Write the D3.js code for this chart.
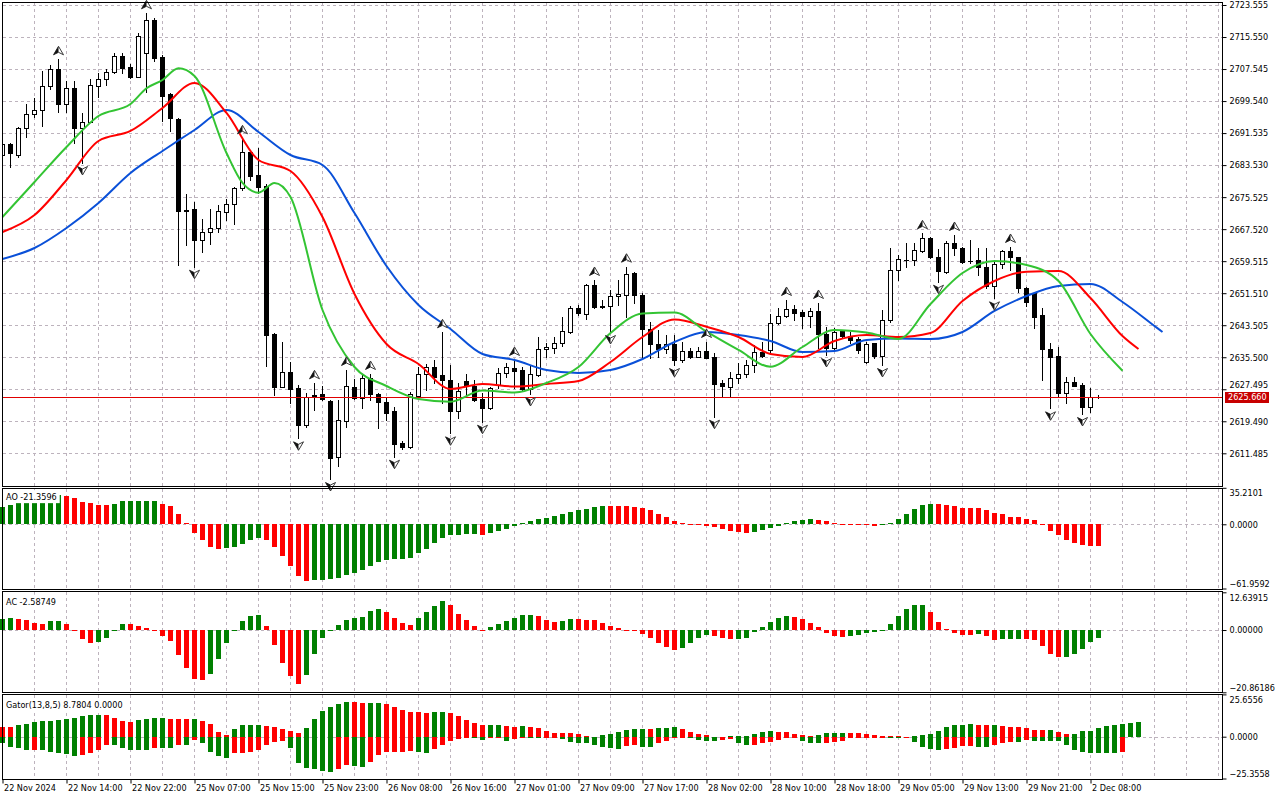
<!DOCTYPE html>
<html>
<head>
<meta charset="utf-8">
<script src="https://cdn.jsdelivr.net/npm/d3@7"></script>
<style>
  html, body { margin: 0; padding: 0; background: #fff; }
  svg { display: block; font-family: "DejaVu Sans Condensed", "Liberation Sans", Arial, sans-serif; }
</style>
</head>
<body>
<div id="chart"></div>
<script>
// candles (XAUUSD H1), bar 0 = 22 Nov 2024 06:00
const opens = [2686.06,2688.81,2686.06,2692.73,2696.23,2697.31,2703.31,2707.56,2698.81,2702.73,
  2692.73,2694.38,2703.38,2704.98,2706.81,2710.81,2708.13,2705.63,2711.63,2719.81,
  2710.63,2701.23,2695.06,2672.31,2672.48,2664.81,2666.81,2667.73,2671.88,2673.73,
  2677.73,2686.73,2681.06,2678.38,2641.31,2628.13,2631.73,2627.73,2618.56,2625.88,
  2626.31,2624.56,2610.48,2619.63,2628.13,2625.23,2630.23,2626.31,2624.31,2622.06,
  2613.98,2613.13,2625.88,2631.23,2633.13,2631.06,2629.81,2622.13,2629.56,2628.38,
  2625.06,2622.73,2628.56,2631.48,2632.73,2632.31,2627.48,2631.06,2637.48,2637.73,
  2638.98,2641.88,2647.73,2646.23,2653.56,2648.31,2648.31,2650.81,2651.06,2656.48,
  2651.06,2642.56,2638.81,2637.48,2638.81,2634.81,2637.06,2635.63,2637.06,2635.63,
  2628.98,2628.13,2630.23,2631.23,2633.56,2636.73,2637.31,2643.98,2645.88,2647.48,
  2646.73,2645.88,2647.06,2641.31,2637.73,2642.06,2640.81,2640.06,2634.38,2638.98,
  2635.88,2644.81,2657.31,2659.81,2659.81,2662.13,2665.23,2660.48,2656.88,2664.13,
  2662.73,2659.56,2659.81,2658.13,2653.31,2658.73,2662.06,2660.48,2652.73,2651.48,
  2646.06,2637.56,2635.81,2626.63,2629.23,2628.56,2622.98,2625.60];
const highs = [2689.06,2689.06,2693.13,2698.81,2700.38,2707.13,2708.56,2709.98,2704.63,2704.56,
  2696.56,2704.98,2706.48,2707.48,2711.48,2711.48,2708.73,2716.48,2721.48,2720.23,
  2711.06,2701.56,2695.31,2676.23,2674.38,2669.98,2672.56,2673.56,2674.98,2678.13,
  2690.23,2687.31,2687.88,2678.81,2641.63,2639.38,2634.23,2628.56,2626.48,2628.98,
  2628.31,2624.81,2624.81,2632.31,2629.98,2631.06,2631.31,2626.56,2625.63,2622.98,
  2614.63,2626.88,2632.98,2633.81,2634.81,2641.73,2633.56,2628.98,2631.31,2629.81,
  2626.48,2628.13,2632.73,2634.13,2634.81,2633.13,2633.31,2640.63,2639.13,2640.63,
  2645.63,2648.31,2648.56,2653.73,2654.81,2649.81,2652.31,2654.81,2658.13,2656.88,
  2651.63,2644.38,2642.31,2641.06,2641.06,2639.38,2637.73,2638.13,2639.31,2636.48,
  2629.81,2631.88,2633.98,2634.81,2638.56,2639.38,2646.31,2647.73,2649.81,2648.56,
  2647.31,2647.73,2649.06,2643.13,2642.73,2642.31,2641.88,2640.63,2639.38,2639.13,
  2647.31,2662.73,2661.06,2664.13,2664.13,2666.48,2665.63,2662.48,2664.63,2666.06,
  2663.13,2664.81,2662.88,2662.73,2659.63,2662.31,2663.06,2660.63,2653.13,2651.88,
  2647.73,2638.98,2638.13,2630.63,2630.63,2628.98,2627.88,2626.06];
const lows = [2685.81,2683.06,2685.56,2690.63,2695.63,2693.31,2702.48,2696.88,2696.81,2688.98,
  2684.06,2694.31,2700.63,2703.56,2706.63,2706.63,2705.23,2705.56,2701.88,2709.56,
  2694.63,2692.13,2658.56,2663.56,2658.13,2661.73,2663.73,2666.88,2669.81,2668.73,
  2677.31,2679.81,2676.63,2633.38,2626.06,2628.13,2623.98,2615.23,2618.13,2622.31,
  2624.93,2605.06,2608.31,2617.98,2625.06,2622.88,2624.81,2617.73,2619.81,2610.63,
  2612.48,2612.73,2625.88,2627.31,2628.98,2623.98,2616.48,2620.23,2625.63,2624.56,
  2619.38,2622.56,2627.73,2630.63,2627.73,2627.31,2626.31,2630.81,2635.63,2636.48,
  2638.31,2641.48,2646.06,2644.98,2647.73,2647.73,2641.81,2648.56,2645.63,2648.98,
  2635.63,2635.23,2635.63,2636.48,2633.56,2634.38,2635.38,2635.48,2635.23,2620.63,
  2625.63,2625.63,2629.13,2630.63,2631.88,2635.56,2636.48,2643.81,2645.63,2644.81,
  2642.73,2643.13,2637.73,2636.06,2637.56,2640.63,2639.13,2636.63,2634.06,2635.23,
  2633.56,2644.31,2654.81,2658.13,2658.56,2661.88,2660.23,2654.38,2656.63,2661.06,
  2659.13,2658.98,2656.06,2652.73,2650.23,2657.73,2657.31,2651.88,2648.31,2642.88,
  2629.81,2622.73,2625.63,2623.98,2628.31,2621.31,2621.73,2625.31];
const closes = [2688.81,2686.48,2692.81,2696.23,2697.31,2703.31,2707.48,2698.73,2702.73,2692.73,
  2694.38,2703.56,2704.98,2706.88,2710.81,2707.88,2705.63,2715.81,2719.81,2710.23,
  2700.81,2695.23,2672.13,2672.18,2664.81,2666.73,2667.73,2672.06,2673.73,2677.73,
  2686.73,2680.88,2678.13,2641.06,2628.13,2631.88,2627.56,2618.56,2625.63,2625.98,
  2625.06,2610.38,2619.81,2628.31,2625.23,2630.23,2626.23,2624.23,2621.48,2613.81,
  2613.13,2626.23,2631.23,2633.13,2630.63,2629.81,2622.13,2627.13,2628.31,2624.81,
  2622.88,2627.88,2631.48,2633.13,2632.13,2627.48,2631.31,2637.56,2637.98,2638.98,
  2642.06,2647.73,2646.48,2653.56,2648.13,2648.18,2650.88,2651.23,2656.23,2651.06,
  2642.48,2638.81,2637.48,2638.81,2634.81,2637.06,2635.63,2637.06,2635.38,2628.73,
  2628.31,2630.23,2631.31,2633.56,2636.73,2635.81,2643.98,2645.88,2647.48,2646.63,
  2645.88,2647.06,2641.23,2637.73,2641.88,2640.81,2639.81,2637.31,2638.81,2635.81,
  2644.81,2657.31,2659.98,2659.88,2662.31,2665.23,2660.48,2657.13,2664.13,2662.73,
  2659.38,2659.48,2658.13,2653.31,2658.73,2662.06,2660.48,2652.73,2649.38,2645.63,
  2637.48,2635.63,2626.63,2629.23,2628.38,2623.13,2625.63,2625.66];
const lastPrice = 2625.66;

// Bill Williams fractals (bar numbers)
const fractalUp = [7, 18, 30, 39, 43, 46, 55, 64, 74, 78, 88, 98, 102, 115, 119, 126];
const fractalDown = [10, 24, 37, 41, 49, 56, 60, 66, 76, 84, 89, 103, 110, 117, 124, 131, 135];

// Alligator lines, read every 4th bar (plus a few extra points)
const jawBars = d3.range(0, 145, 4).concat([145]);
const jawValues = [2660.06,2662.81,2667.81,2674.06,2681.56,2687.06,2692.31,2697.31,2691.81,2686.06,
  2683.56,2671.56,2658.31,2648.56,2642.56,2636.31,2634.81,2632.31,2631.56,2632.31,
  2635.06,2639.31,2641.81,2641.06,2639.56,2636.81,2637.06,2639.81,2640.18,2640.06,
  2641.81,2647.06,2650.81,2653.31,2653.81,2649.31,2643.31,2641.81];
const teethBars = d3.range(0, 141, 4).concat([142]);
const teethValues = [2666.81,2671.06,2679.81,2689.56,2692.06,2697.81,2704.06,2696.56,2684.81,2682.06,
  2670.56,2651.31,2638.81,2633.81,2627.56,2628.81,2628.18,2628.81,2629.56,2634.31,
  2640.56,2644.93,2643.13,2640.56,2636.31,2635.56,2639.56,2641.06,2640.56,2641.56,
  2649.56,2654.56,2656.88,2657.06,2650.31,2640.81,2637.56];
const lipsBars = [0, 4, 8, 12, 16, 18, 20, 22, 24, 28, 30, 32, 34, 36].concat(d3.range(40, 141, 4));
const lipsValues = [2670.56,2679.31,2688.06,2695.81,2698.81,2702.73,2704.81,2707.73,2705.81,2686.56,
  2679.06,2676.63,2679.06,2675.56,
  2647.31,2633.06,2628.31,2625.06,2624.38,2627.18,2626.68,2629.06,2633.06,2641.56,
  2646.43,2646.68,2641.88,2637.31,2633.13,2638.06,2642.31,2641.68,2640.06,2648.81,
  2656.56,2659.56,2658.56,2654.56,2641.31,2632.13];

// Awesome Oscillator
const aoValues = [17.0,18.6,20.9,22.5,24.0,25.5,26.8,28.0,27.3,25.7,
  21.9,20.9,18.6,18.5,19.9,22.5,22.6,22.7,22.8,22.9,
  19.9,17.7,10.0,1.3,-8.0,-15.4,-21.9,-23.5,-22.5,-21.5,
  -18.6,-15.4,-13.2,-15.4,-21.5,-30.5,-40.2,-49.8,-54.7,-53.7,
  -53.5,-52.4,-51.4,-48.9,-46.6,-44.1,-40.2,-36.3,-34.4,-33.4,
  -33.1,-32.2,-27.3,-23.5,-18.3,-13.2,-10.3,-10.2,-9.0,-8.9,
  -10.3,-8.0,-6.4,-4.5,-1.6,1.0,2.9,5.1,6.1,8.0,
  10.0,12.2,13.8,14.8,16.7,17.7,17.6,17.5,17.3,16.7,
  15.8,13.8,10.3,7.1,3.2,1.3,0.3,-0.3,-1.6,-2.3,
  -4.2,-6.4,-7.4,-8.0,-7.1,-5.1,-3.2,-1.3,1.3,3.2,
  4.5,5.1,4.2,3.2,1.3,0.3,0.1,-0.2,-0.5,-1.3,
  -0.3,1.3,5.1,9.6,14.5,18.6,19.6,19.5,18.6,17.4,
  15.8,15.7,15.6,13.5,10.9,9.6,7.4,7.1,5.1,4.2,
  -0.2,-6.4,-10.3,-15.4,-17.7,-19.9,-20.6,-21.3596];
// Accelerator Oscillator
const acValues = [3.8,4.0,3.6,3.4,2.5,2.1,3.0,3.05,2.1,-0.2,
  -2.9,-4.2,-3.9,-2.6,-0.1,2.1,2.0,1.3,0.7,0.1,
  -2.0,-3.7,-8.2,-12.6,-16.3,-16.8,-14.6,-9.6,-4.2,-0.4,
  3.0,4.7,5.2,1.3,-4.9,-10.9,-15.4,-18.0,-15.0,-7.9,
  -2.6,-0.1,1.7,3.4,4.0,4.4,6.4,7.1,6.0,4.0,
  2.5,1.8,4.0,6.0,8.0,9.7,8.5,5.5,3.4,1.3,
  -0.1,1.0,2.1,3.0,4.0,5.0,5.05,4.7,3.4,2.7,
  3.0,3.7,3.6,3.4,3.3,2.5,1.3,0.7,-0.05,-0.1,
  -1.2,-2.6,-4.2,-5.6,-6.7,-6.0,-4.2,-2.6,-1.6,-2.0,
  -2.6,-2.9,-2.85,-2.6,-0.6,1.0,2.7,4.0,4.7,4.4,
  3.7,2.5,1.0,-0.9,-1.9,-2.3,-1.9,-1.6,-1.0,-0.6,
  -0.1,2.0,4.7,6.9,8.4,8.45,6.0,2.7,0.3,-1.0,
  -1.6,-1.65,-1.2,-1.9,-3.2,-3.15,-2.9,-2.85,-2.9,-3.2,
  -5.2,-7.9,-9.0,-8.95,-7.9,-6.3,-3.9,-2.58749];
// Gator oscillator: upper |jaw-teeth|, lower -|teeth-lips|
const gatorUpper = [5.9,5.85,6.9,7.9,8.9,9.5,9.55,10.1,10.9,11.5,
  12.6,13.0,13.05,12.9,11.3,9.5,8.9,9.9,10.9,11.3,
  11.5,10.9,10.85,10.8,10.9,9.5,7.9,2.8,1.2,4.9,
  6.9,7.3,7.35,6.7,6.1,4.7,3.2,2.2,5.5,10.9,
  15.6,18.2,19.8,21.1,21.0,20.4,20.45,20.5,19.6,18.0,
  16.2,15.0,14.95,14.4,15.0,15.05,14.4,12.6,10.1,8.3,
  7.1,7.15,7.2,6.5,6.1,6.7,6.1,5.1,3.2,2.4,
  2.2,2.15,1.6,0.6,0.1,1.0,1.6,2.8,4.0,4.7,
  4.75,4.7,5.3,5.35,6.1,4.7,2.8,1.6,1.0,0.1,
  0.05,0.4,0.6,0.65,1.4,2.8,3.4,2.8,2.75,1.8,
  1.0,0.4,0.8,2.0,2.4,2.45,2.0,1.95,1.6,1.0,
  0.6,0.4,0.25,0.1,0.4,0.9,1.4,3.4,6.1,6.9,
  7.3,7.7,7.3,6.9,7.0,6.5,6.1,6.05,5.5,4.3,
  4.25,4.3,2.8,1.6,1.7,3.4,3.45,5.5,6.2,7.1,
  7.8,8.2,8.78];
const gatorLower = [-4.0,-6.1,-7.1,-8.1,-8.05,-8.1,-9.1,-10.1,-10.5,-11.5,
  -10.9,-9.7,-8.1,-5.1,-5.15,-7.1,-8.1,-8.15,-8.2,-6.7,
  -7.1,-7.15,-5.1,-5.15,-2.0,-4.0,-9.1,-11.5,-13.0,-9.9,
  -9.7,-9.1,-8.1,-5.3,-3.0,-2.4,-7.1,-15.8,-18.8,-19.4,
  -20.9,-21.3,-19.4,-17.0,-17.8,-18.2,-15.2,-10.9,-9.1,-9.05,
  -9.0,-8.7,-9.1,-9.7,-7.7,-4.9,-2.6,-1.2,-0.6,-1.0,
  -2.0,-1.0,-0.95,-2.6,-1.6,-0.4,-1.0,-1.05,-0.6,-0.4,
  -1.6,-3.0,-3.6,-4.0,-5.1,-6.1,-6.7,-7.3,-5.7,-5.1,
  -6.1,-6.15,-3.6,-2.6,-1.0,-0.6,-1.0,-2.0,-2.6,-2.65,
  -2.0,-1.6,-3.6,-4.9,-4.85,-3.6,-3.0,-2.0,-1.0,-0.8,
  -2.6,-3.6,-3.65,-3.6,-3.0,-2.4,-1.0,-0.9,-0.7,-0.6,
  -0.5,-1.0,-1.05,-0.3,-3.0,-6.1,-7.7,-8.1,-7.7,-7.1,
  -5.7,-5.65,-6.1,-6.15,-5.1,-4.0,-3.0,-3.05,-2.0,-2.6,
  -2.65,-2.7,-2.75,-5.1,-8.1,-9.1,-9.7,-9.72,-9.74,-9.76,
  -9.1];

// axis labels
const priceTicks = [2723.555, 2715.550, 2707.545, 2699.540, 2691.535, 2683.530, 2675.525, 2667.520,
  2659.515, 2651.510, 2643.505, 2635.500, 2627.495, 2619.490, 2611.485];
const aoTicks = [35.2101, 0, -61.9592];
const acTicks = [12.63915, 0, -20.86186];
const gatorTicks = [25.6556, 0, -25.3558];
const dateBars = [0, 8, 16, 24, 32, 40, 48, 56, 64, 72, 80, 88, 96, 104, 112, 120, 128, 136];
const dateLabels = ['22 Nov 2024', '22 Nov 14:00', '22 Nov 22:00', '25 Nov 07:00', '25 Nov 15:00',
  '25 Nov 23:00', '26 Nov 08:00', '26 Nov 16:00', '27 Nov 01:00', '27 Nov 09:00', '27 Nov 17:00',
  '28 Nov 02:00', '28 Nov 10:00', '28 Nov 18:00', '29 Nov 05:00', '29 Nov 13:00', '29 Nov 21:00',
  '2 Dec 08:00'];

const W = 1280, H = 800;
const GREEN = '#008000', RED = '#ff0000';
const GRID = '#bdb3bd';
const FONT = '9px';

const svg = d3.select('#chart').append('svg').attr('width', W).attr('height', H);
svg.append('rect').attr('width', W).attr('height', H).attr('fill', '#fff');

// panels
const panels = {
  main: { top: 2, bottom: 486 },
  ao: { top: 488, bottom: 589 },
  ac: { top: 591, bottom: 692 },
  gator: { top: 694, bottom: 779 }
};

// scales
const x = d3.scaleLinear().domain([0, 152]).range([2.5, 1218.5]);
const yPrice = d3.scaleLinear().domain([2611.485, 2723.555]).range([453.3, 5]);
const yAO = d3.scaleLinear().domain([-61.9592, 35.2101]).range([588.5, 487.8]);
const yAC = d3.scaleLinear().domain([-20.86186, 12.63915]).range([692.3, 592.3]);
const yGator = d3.scaleLinear().domain([-25.3558, 25.6556]).range([778.5, 694.4]);

const crisp = v => Math.round(v) + 0.5;

// clip paths for each panel
const defs = svg.append('defs');
Object.entries(panels).forEach(([k, p]) => {
  defs.append('clipPath').attr('id', 'clip-' + k)
    .append('rect').attr('x', 3).attr('y', p.top + 1).attr('width', 1219).attr('height', p.bottom - p.top - 1);
});

// vertical grid in every panel
const gridBars = d3.range(4, 153, 4);
const gridLayer = svg.append('g');
Object.values(panels).forEach(p => {
  gridLayer.append('g').selectAll('line').data(gridBars).join('line')
    .attr('x1', d => x(d)).attr('x2', d => x(d))
    .attr('y1', p.top + 1).attr('y2', p.bottom)
    .attr('stroke', GRID).attr('stroke-dasharray', '3,3');
});

// horizontal grid in the price panel
gridLayer.append('g').selectAll('line').data(priceTicks).join('line')
  .attr('x1', 3).attr('x2', 1222)
  .attr('y1', d => crisp(yPrice(d))).attr('y2', d => crisp(yPrice(d)))
  .attr('stroke', GRID).attr('stroke-dasharray', '3,3');

// zero lines in the oscillator panels
[yAO, yAC, yGator].forEach(s => {
  gridLayer.append('line')
    .attr('x1', 3).attr('x2', 1222)
    .attr('y1', crisp(s(0))).attr('y2', crisp(s(0)))
    .attr('stroke', GRID).attr('stroke-dasharray', '3,3');
});

// ---------------- price panel ----------------
const main = svg.append('g').attr('clip-path', 'url(#clip-main)');

// candles
const candles = opens.map((o, i) => ({ i, o, h: highs[i], l: lows[i], c: closes[i] }));
const cg = main.append('g').selectAll('g').data(candles).join('g');
cg.append('line')
  .attr('x1', d => x(d.i)).attr('x2', d => x(d.i))
  .attr('y1', d => Math.round(yPrice(d.h))).attr('y2', d => Math.round(yPrice(d.l)) + 1)
  .attr('stroke', '#000');
cg.each(function (d) {
  const g = d3.select(this);
  const top = Math.round(yPrice(Math.max(d.o, d.c)));
  const bot = Math.round(yPrice(Math.min(d.o, d.c)));
  const left = x(d.i) - 2.5;
  if (bot - top < 2) {
    g.append('rect').attr('x', left).attr('y', top).attr('width', 5).attr('height', Math.max(1, bot - top + 1)).attr('fill', '#000');
  } else if (d.c < d.o) {
    g.append('rect').attr('x', left).attr('y', top).attr('width', 5).attr('height', bot - top + 1).attr('fill', '#000');
  } else {
    g.append('rect').attr('x', left + 0.5).attr('y', top + 0.5).attr('width', 4).attr('height', bot - top)
      .attr('fill', '#fff').attr('stroke', '#000');
  }
});

// current price line
svg.append('rect')
  .attr('x', 3).attr('width', 1219)
  .attr('y', Math.round(yPrice(lastPrice))).attr('height', 1)
  .attr('fill', '#e00000');

// alligator
const alligator = [
  { bars: jawBars, vals: jawValues, color: '#0a50d8' },
  { bars: teethBars, vals: teethValues, color: '#ff0000' },
  { bars: lipsBars, vals: lipsValues, color: '#33c433' }
];
const line = d3.line().x(d => x(d[0])).y(d => yPrice(d[1])).curve(d3.curveMonotoneX);
alligator.forEach(a => {
  svg.append('path')
    .attr('d', line(a.bars.map((b, k) => [b, a.vals[k]])))
    .attr('fill', 'none').attr('stroke', a.color).attr('stroke-width', 2)
    .attr('stroke-linejoin', 'round');
});

// fractal arrows
const arrowUp = 'M0,-4.5 L5,4 L0,1.5 L-5,4 Z';
const arrowUpLeft = 'M0,-4.5 L0,1.5 L-5,4 Z';
const fr = svg.append('g');
function drawArrow(bar, yc, down) {
  const g = fr.append('g')
    .attr('transform', `translate(${x(bar)},${yc})${down ? ' scale(1,-1)' : ''}`);
  g.append('path').attr('d', arrowUp).attr('fill', '#fff').attr('stroke', '#3a3a3a').attr('stroke-width', 1);
  g.append('path').attr('d', arrowUpLeft).attr('fill', '#111');
}
fractalUp.forEach(b => drawArrow(b, yPrice(highs[b]) - 8.5, false));
fractalDown.forEach(b => drawArrow(b, yPrice(lows[b]) + 7.5, true));

// ---------------- oscillators ----------------
function histogram(values, scale, firstUp, useAbs) {
  const y0 = Math.round(scale(0));
  svg.append('g').selectAll('rect').data(values).join('rect')
    .attr('x', (d, i) => x(i) - 2.5)
    .attr('width', 5)
    .attr('y', d => Math.min(y0, Math.round(scale(d))))
    .attr('height', d => Math.max(1, Math.abs(Math.round(scale(d)) - y0)))
    .attr('fill', (d, i) => {
      let up;
      if (i === 0) up = firstUp;
      else up = useAbs ? Math.abs(d) > Math.abs(values[i - 1]) : d > values[i - 1];
      return up ? GREEN : RED;
    });
}
histogram(aoValues, yAO, true, false);
histogram(acValues, yAC, true, false);
histogram(gatorUpper, yGator, false, false);
histogram(gatorLower, yGator, true, true);

// indicator names (with white backing like the terminal)
function panelLabel(txt, yc) {
  const g = svg.append('g');
  const bg = g.append('rect').attr('fill', '#fff');
  const t = g.append('text').attr('x', 6).attr('y', yc).attr('dy', '0.35em')
    .attr('font-size', FONT).attr('fill', '#000').text(txt);
  const bb = t.node().getBBox();
  bg.attr('x', 3).attr('y', bb.y - 2).attr('width', bb.width + 6).attr('height', bb.height + 3);
}
panelLabel('AO -21.3596', 497);
panelLabel('AC -2.58749', 601.5);
panelLabel('Gator(13,8,5) 8.7804 0.0000', 705);

// frames
Object.values(panels).forEach(p => {
  svg.append('rect')
    .attr('x', 2.5).attr('y', p.top + 0.5)
    .attr('width', 1220).attr('height', p.bottom - p.top)
    .attr('fill', 'none').attr('stroke', '#000');
});

// ---------------- axes ----------------
function styleAxis(g) {
  g.select('.domain').remove();
  g.selectAll('.tick line').attr('stroke', '#000');
  g.selectAll('.tick text').attr('font-size', FONT).attr('fill', '#000')
    .attr('font-family', '"DejaVu Sans Condensed", "Liberation Sans", Arial, sans-serif');
}

const priceAxis = svg.append('g').attr('transform', 'translate(1222.5,0)')
  .call(d3.axisRight(yPrice).tickValues(priceTicks).tickFormat(d3.format('.3f')).tickSize(4).tickPadding(3))
  .call(styleAxis);
// the label hidden behind the price tag sits slightly higher, as in the terminal
priceAxis.selectAll('.tick text').filter(d => d === 2627.495).attr('dy', '-0.25em');

function oscAxis(scale, ticks, fmt) {
  const g = svg.append('g').attr('transform', 'translate(1222.5,0)')
    .call(d3.axisRight(scale).tickValues(ticks).tickFormat(d3.format(fmt)).tickSize(4).tickPadding(3))
    .call(styleAxis);
  g.selectAll('.tick text').attr('dy', (d, i) => i === 0 ? '0.9em' : (i === 2 ? '-0.2em' : '0.32em'));
}
oscAxis(yAO, aoTicks, '.4f');
oscAxis(yAC, acTicks, '.5f');
oscAxis(yGator, gatorTicks, '.4f');

const xAxisG = svg.append('g').attr('transform', 'translate(0,779.5)')
  .call(d3.axisBottom(x).tickValues(dateBars).tickFormat((d, i) => dateLabels[i]).tickSize(4).tickSizeOuter(0))
  .call(styleAxis);
xAxisG.selectAll('.tick text').attr('text-anchor', 'start').attr('x', 1).attr('y', 5).attr('dy', '0.71em');

// last price tag
const lpY = yPrice(lastPrice);
svg.append('rect').attr('x', 1225).attr('y', Math.round(lpY) - 5).attr('width', 44).attr('height', 11).attr('fill', '#c80000');
svg.append('text').attr('x', 1228).attr('y', lpY + 0.5).attr('dy', '0.35em')
  .attr('font-size', FONT).attr('fill', '#fff').text(lastPrice.toFixed(3));
</script>
</body>
</html>
